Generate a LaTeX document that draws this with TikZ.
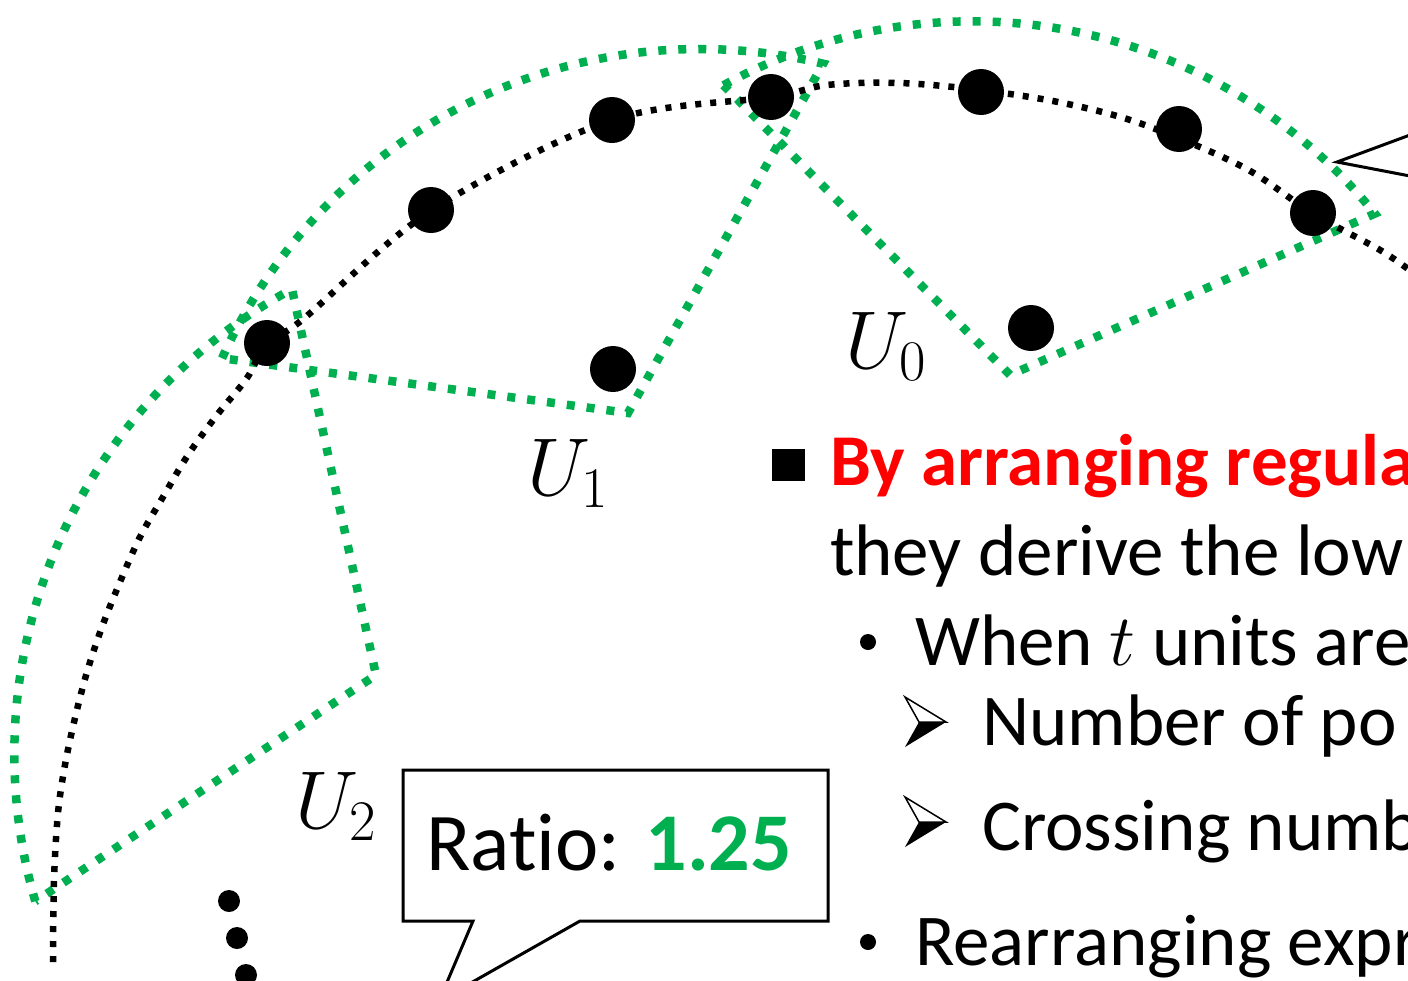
\documentclass[tikz,border=0pt]{standalone}
\usepackage{fix-cm}
\usepackage{fontspec}
\setmainfont{Carlito}[Ligatures=NoCommon]
\definecolor{ogreen}{RGB}{0,176,80}
\tikzset{
  gdot/.style={draw=ogreen, line width=8.5pt, dash pattern=on 8pt off 12pt},
  bdot/.style={draw=black, line width=6.5pt, dash pattern=on 6pt off 9pt},
  bigdot/.style={circle, fill=black, inner sep=0pt, minimum size=46pt},
  smalldot/.style={circle, fill=black, inner sep=0pt, minimum size=22pt},
  txt/.style={anchor=base west, inner sep=0pt, font=\fontsize{73}{86}\selectfont},
  lbl/.style={anchor=base west, inner sep=0pt, font=\fontsize{82}{96}\selectfont},
  thinline/.style={draw=black, line width=3pt, line join=miter},
  arrowhd/.style={draw=black, line width=1.5pt, line join=miter}
}
\begin{document}
\begin{tikzpicture}[x=1pt,y=-1pt]
\clip (0,0) rectangle (1408,980);
\fill[white] (0,0) rectangle (1408,980);

% green regions
\draw[gdot] plot[domain=-118.8:-38.9, samples=90] ({972.5+517*cos(\x)},{538.3+517*sin(\x)}) -- (1010,375) -- cycle;
\draw[gdot] plot[domain=-155.8:-76.4, samples=90] ({700+524*cos(\x)},{573+524*sin(\x)}) -- (628,413) -- cycle;
\draw[gdot] plot[domain=163.8:241.7, samples=90] ({542.3+528*cos(\x)},{754+528*sin(\x)}) -- (376,675) -- cycle;

% black dotted curve
\draw[bdot] plot[smooth, tension=0.55] coordinates {(53,962) (54,880) (58,813) (65,765) (75,718) (87,672) (102,627) (120,582) (140,537) (163,497) (188,455) (217,415) (247,378) (267,343) (302,320) (432,210) (612,120) (772,97) (827,85) (900,83) (980,90) (1063,103) (1142,124) (1243,167) (1312,213) (1380,250) (1412,272)};

% points
\node[bigdot] (p1) at (267,343) {};
\node[bigdot] (p2) at (431,210) {};
\node[bigdot] (p3) at (612,120) {};
\node[bigdot] (p4) at (771,97) {};
\node[bigdot] (p5) at (981,92) {};
\node[bigdot] (p6) at (1179,129) {};
\node[bigdot] (p7) at (1313,213) {};
\node[bigdot] (q1) at (613,369) {};
\node[bigdot] (q0) at (1031,328) {};
\node[smalldot] (e1) at (229,901) {};
\node[smalldot] (e2) at (237,938) {};
\node[smalldot] (e3) at (246,975) {};

% labels
\node[lbl] (u0) at (845,368) {$U_0$};
\node[lbl] (u1) at (527,495) {$U_1$};
\node[lbl] (u2) at (295,828) {$U_2$};

% callout pointer top right
\coordinate (ca) at (1410,135);
\coordinate (cb) at (1337,162);
\coordinate (cc) at (1410,176);
\draw[thinline] (ca) -- (cb) -- (cc);

% ratio callout
\draw[thinline] (473,921) -- (403,921) -- (403,770) -- (828,770) -- (828,921) -- (580,921) -- (439,1001) -- cycle;
\node[lbl] (ratio) at (426,870) {Ratio: \textcolor{ogreen}{\bfseries 1.25}};

% text block
\fill (772,449) rectangle (805,481);
\node[txt, text=red, font=\fontsize{73}{86}\selectfont\bfseries] (l1) at (830,485) {By arranging regula};
\node[txt] (l2) at (830,575) {they derive the low};
\fill (868,642) circle (8);
\node[txt] (l3) at (915,665) {When $t$ units are};
\fill (919,722) -- (946,722) -- (905,747) -- cycle;
\draw[arrowhd] (905,697) -- (946,722) -- (919,722) -- cycle;
\node[txt] (l4) at (982,745) {Number of po};
\fill (919,822) -- (946,822) -- (905,847) -- cycle;
\draw[arrowhd] (905,797) -- (946,822) -- (919,822) -- cycle;
\node[txt] (l5) at (982,850) {Crossing numb};
\fill (868,942) circle (8);
\node[txt] (l6) at (915,965) {Rearranging expr};
\end{tikzpicture}
\end{document}
